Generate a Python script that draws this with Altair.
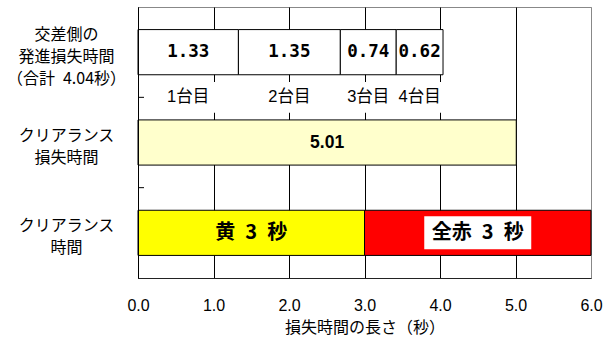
import json

import altair as alt
import pandas as pd

# ---- data -------------------------------------------------------------
row_labels = [
    "交差側の\n発進損失時間\n（合計\u20024.04秒）",
    "クリアランス\n損失時間",
    "クリアランス\n時間",
]
start_names = ["1台目", "2台目", "3台目", "4台目"]
start_losses = [1.33, 1.35, 0.74, 0.62]
clearance_losses = [5.01]
clearance_names = ["黄\u20023\u2002秒", "全赤\u20023\u2002秒"]
clearance_times = [3, 3]
clearance_colors = ["#FFFF00", "#FF0000"]
x_ticks = [0, 1, 2, 3, 4, 5, 6]
x_title = "損失時間の長さ（秒）"

# ---- layout constants ---------------------------------------------------
GAP = 0.25          # empty part of each row above/below its bar
LABEL_HALF = 0.17   # half height of the white box behind 1台目 ... 4台目
LINE_H = 22         # line height of the row labels
LABEL_DROP = 4      # small downward nudge of the row label blocks
FONT = "Liberation Sans, Noto Sans CJK JP"
CJK = "Noto Sans CJK JP"
MONO = "DejaVu Sans Mono"


def segments(row, values, fills, names=None):
    out, start = [], 0.0
    for i, v in enumerate(values):
        out.append({
            "row": row, "x0": start, "x1": start + v, "mid": start + v / 2,
            "value": v, "fill": fills[i],
            "name": names[i] if names else "",
            "y0": row + GAP, "y1": row + 1 - GAP, "yc": row + 0.5,
        })
        start += v
    return out


bars = pd.DataFrame(
    segments(0, start_losses, ["#FFFFFF"] * len(start_losses), start_names)
    + segments(1, clearance_losses, ["#FFFFCC"])
    + segments(2, clearance_times, clearance_colors, clearance_names)
)
bars["yb"] = bars["row"] + 1
bars["yb0"] = bars["yb"] - LABEL_HALF
bars["yb1"] = bars["yb"] + LABEL_HALF

row0 = bars[bars.row == 0]
row1 = bars[bars.row == 1]
row2 = bars[bars.row == 2]
boundaries = pd.DataFrame({"b": list(range(1, len(row_labels)))})

n_rows = len(row_labels)
xscale = alt.Scale(domain=[x_ticks[0], x_ticks[-1]], nice=False, zero=False)
yscale = alt.Scale(domain=[0, n_rows], reverse=True, nice=False, zero=False)

labels_js = json.dumps(row_labels, ensure_ascii=False)

# shift each multi-line row label up so that its block is centred on the row
offsets = [LABEL_DROP - lbl.count("\n") * LINE_H / 2 for lbl in row_labels]
label_offset = {
    "condition": [
        {"test": f"floor(datum.value) === {i}", "value": off}
        for i, off in enumerate(offsets[:-1])
    ],
    "value": offsets[-1],
}

x_axis = alt.Axis(
    values=x_ticks, format=".1f", grid=True,
    gridColor=alt.condition(f"datum.value === {x_ticks[-1]}",
                            alt.value("#888888"), alt.value("#000000")),
    gridWidth=1, ticks=False, domainColor="#222222", domainWidth=1,
    labelFont=FONT, labelFontSize=16, labelColor="#000000", labelPadding=19,
    labelFlush=False,
    title=x_title, titleFont=CJK, titleFontSize=16, titleFontWeight="normal",
    titleColor="#000000", titlePadding=6,
)
y_axis = alt.Axis(
    values=[i + 0.5 for i in range(n_rows)],
    labelExpr=f"split({labels_js}[floor(datum.value)], '\\n')",
    ticks=False, tickSize=0, grid=False, domainColor="#000000", domainWidth=1,
    labelFont=CJK, labelFontSize=16, labelLineHeight=LINE_H, labelColor="#000000",
    labelAlign="center", labelBaseline="middle", labelPadding=72,
    labelOffset=label_offset,
    title=None, zindex=1,
)


def X(f):
    return alt.X(f, type="quantitative", scale=xscale, axis=x_axis)


def Y(f):
    return alt.Y(f, type="quantitative", scale=yscale, axis=y_axis)


# white boxes behind the vehicle labels (they break the grid lines)
label_boxes = alt.Chart(row0).mark_rect(fill="#FFFFFF").encode(
    x=X("x0"), x2="x1", y=Y("yb0"), y2="yb1"
)

bar_layer = alt.Chart(bars).mark_rect(stroke="#000000", strokeWidth=1).encode(
    x=X("x0"), x2="x1", y=Y("y0"), y2="y1",
    fill=alt.Fill("fill:N", scale=None),
)

start_values = alt.Chart(row0).mark_text(
    font=MONO, fontSize=17.5, fontWeight="bold", color="#000000", baseline="middle"
).encode(x=X("mid"), y=Y("yc"), text=alt.Text("value:Q", format=".2f"))

start_labels = alt.Chart(row0).mark_text(
    font=FONT, fontSize=16.5, color="#000000", baseline="middle"
).encode(x=X("mid"), y=Y("yb"), text="name:N")

loss_values = alt.Chart(row1).mark_text(
    font="Liberation Sans", fontSize=17.5, fontWeight="bold", color="#000000",
    baseline="middle",
).encode(x=X("mid"), y=Y("yc"), text=alt.Text("value:Q", format=".2f"))

red_box = alt.Chart(row2[row2.fill == "#FF0000"]).mark_rect(
    fill="#FFFFFF", width=107, height=33
).encode(x=X("mid"), y=Y("yc"))

clearance_text = alt.Chart(row2).mark_text(
    font=CJK, fontSize=20, fontWeight="bold", color="#000000", baseline="middle"
).encode(x=X("mid"), y=Y("yc"), text="name:N")

# short inward ticks on the category axis at the row boundaries
row_ticks = alt.Chart(boundaries).mark_rule(color="#000000", strokeWidth=1).encode(
    x=alt.value(0), x2=alt.value(6), y=Y("b")
)

chart = alt.layer(
    bar_layer, label_boxes, start_values, start_labels, loss_values,
    red_box, clearance_text, row_ticks,
).properties(
    width=453, height=271,
    padding={"left": 138, "top": 7, "right": 20, "bottom": 65},
    autosize=alt.AutoSizeParams(type="none"),
    background="#FFFFFF",
).configure_view(stroke="#888888", strokeWidth=1)

chart.save("out.html", embed_options={"renderer": "svg", "actions": False})
